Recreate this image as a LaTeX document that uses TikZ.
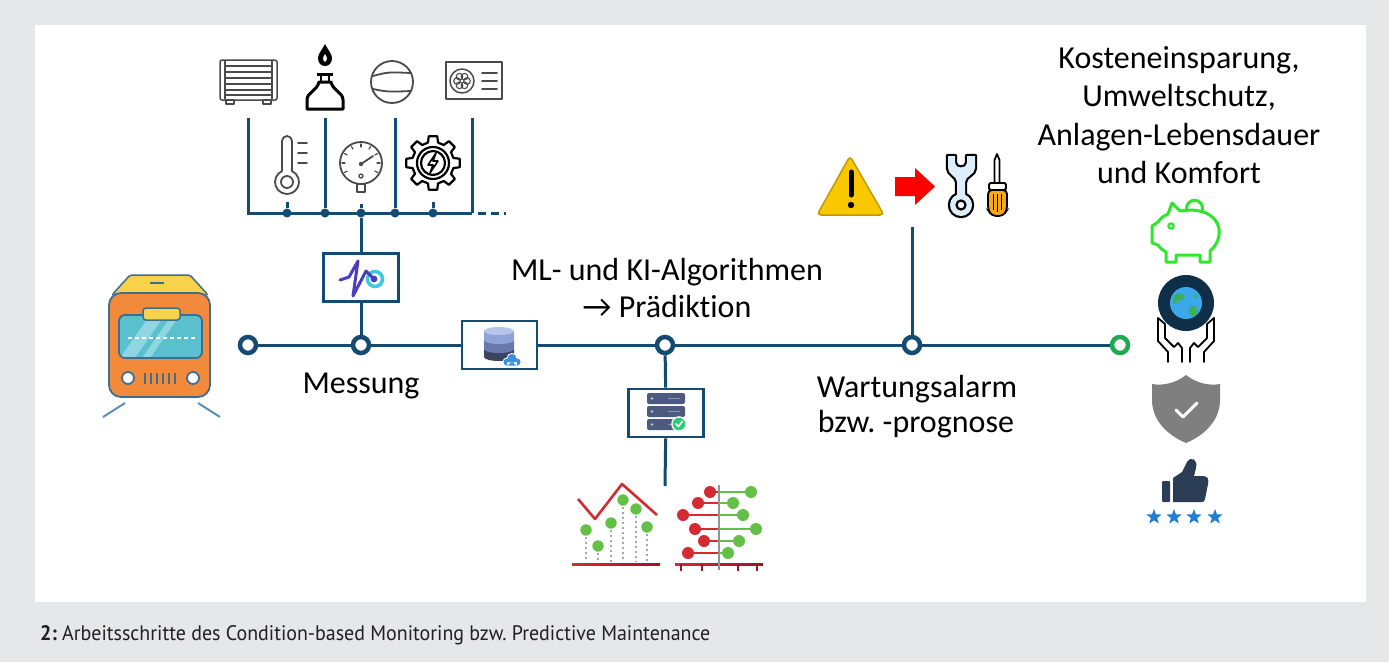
\documentclass[tikz,border=0pt]{standalone}
\usepackage{fontspec}
\newfontfamily\lblfont[Ligatures=NoCommon]{Carlito}
\newfontfamily\capfont[FakeStretch=0.95]{PT Sans}
\definecolor{bggray}{HTML}{E6E7E8}
\definecolor{lineblue}{HTML}{134B73}
\definecolor{hubgreen}{HTML}{1DAA50}
\definecolor{icongray}{HTML}{4A4A4A}
\definecolor{capgray}{HTML}{231F20}
\definecolor{trainorange}{HTML}{F28A3B}
\definecolor{trainyellow}{HTML}{F8D34A}
\definecolor{trainedge}{HTML}{3E6D8E}
\definecolor{trainwin}{HTML}{5BC0CD}
\definecolor{trainwinlight}{HTML}{8FD6E0}
\definecolor{railblue}{HTML}{5B8FC0}
\definecolor{pulsepurple}{HTML}{4A3FC0}
\definecolor{pulsecyan}{HTML}{3BC8E0}
\definecolor{dbtop}{HTML}{B5C5EC}
\definecolor{dbone}{HTML}{8FA3D9}
\definecolor{dbtwo}{HTML}{6A78AE}
\definecolor{dbthree}{HTML}{3B4460}
\definecolor{cloudblue}{HTML}{3A8FE0}
\definecolor{srvslate}{HTML}{4C5A80}
\definecolor{checkgreen}{HTML}{2ECC71}
\definecolor{chartred}{HTML}{D42A32}
\definecolor{chartdark}{HTML}{9E1420}
\definecolor{chartgreen}{HTML}{62C046}
\definecolor{warnyellow}{HTML}{F9C800}
\definecolor{warnedge}{HTML}{C09A00}
\definecolor{toolblue}{HTML}{DCEEFB}
\definecolor{toolorange}{HTML}{F5A623}
\definecolor{piggreen}{HTML}{2BE82B}
\definecolor{globenavy}{HTML}{0E2F47}
\definecolor{globeblue}{HTML}{3AA8EA}
\definecolor{contgreen}{HTML}{3CAE5C}
\definecolor{shieldgray}{HTML}{7F7F7F}
\definecolor{thumbnavy}{HTML}{2B3D55}
\definecolor{starblue}{HTML}{1F7FD4}
\frenchspacing
\begin{document}
\begin{tikzpicture}[x=1pt,y=-1pt,
  wire/.style={draw=lineblue, line width=3pt},
  hub/.style={circle, draw=lineblue, line width=4.5pt, fill=white, minimum size=16pt, inner sep=0pt},
  busdot/.style={circle, fill=lineblue, minimum size=9pt, inner sep=0pt},
  stepbox/.style={rectangle, draw=lineblue, line width=2.6pt, fill=white, minimum width=75pt, minimum height=48pt, inner sep=0pt},
  lbl/.style={font=\lblfont\fontsize{32}{37}\selectfont, inner sep=0pt, anchor=base},
  iconline/.style={draw=icongray, line width=1.8pt, line join=round, line cap=round},
  blackline/.style={draw=black, line width=2.2pt, line join=round, line cap=round}
]
\useasboundingbox (0,0) rectangle (1389,662);
\fill[bggray] (0,0) rectangle (1389,662);
\fill[white] (35,25) rectangle (1366,602);

% ---------------- train ----------------
\draw[railblue, line width=2pt] (125,403) -- (103,417);
\draw[railblue, line width=2pt] (198,403) -- (220,417);
\draw[trainedge, line width=1.5pt, fill=trainyellow, rounded corners=2pt] (130,275) -- (190,275) -- (208,295) -- (112,295) -- cycle;
\draw[trainedge, line width=2pt] (150,283) -- (164,283);
\draw[trainedge, line width=1.8pt, fill=trainorange, rounded corners=12pt] (109,293) rectangle (210,397);
\begin{scope}
  \path[clip, rounded corners=6pt] (119,315) rectangle (202,358);
  \fill[trainwin] (119,315) rectangle (202,358);
  \fill[trainwinlight] (150,315) -- (165,315) -- (135,358) -- (120,358) -- cycle;
  \fill[trainwinlight] (172,315) -- (180,315) -- (150,358) -- (142,358) -- cycle;
\end{scope}
\draw[trainedge, line width=1.8pt, rounded corners=6pt] (119,315) rectangle (202,358);
\draw[white, line width=1.5pt, dash pattern=on 4pt off 3pt] (128,338) -- (195,338);
\draw[trainedge, line width=1.5pt, fill=trainyellow, rounded corners=3pt] (143,308) rectangle (180,320);
\draw[trainedge, line width=1.8pt, fill=white] (128,378) circle (6);
\draw[trainedge, line width=1.8pt, fill=white] (193,378) circle (6);
\foreach \gx in {145,151,157,163,169,175}
  \draw[trainedge, line width=1.8pt] (\gx,373) -- (\gx,384);

% ---------------- sensor bus ----------------
\node[busdot] (d1) at (287,213) {};
\node[busdot] (d2) at (325,213) {};
\node[busdot] (d3) at (361,213) {};
\node[busdot] (d4) at (395,213) {};
\node[busdot] (d5) at (433,213) {};
\coordinate (radL) at (248,118);
\coordinate (busL) at (248,213);
\coordinate (busR) at (472,213);
\coordinate (busEnd) at (506,213);
\coordinate (burnTop) at (325,118);
\coordinate (compTop) at (395,118);
\coordinate (acTop) at (472,118);
\coordinate (thermoStub) at (287,202);
\coordinate (gaugeStub) at (361,204);
\coordinate (gearStub) at (433,202);
\draw[wire] (radL) -- (busL) -- (busR);
\draw[wire, dash pattern=on 8pt off 5pt] ([xshift=6pt]busR) -- (busEnd);
\draw[wire] (burnTop) -- (d2);
\draw[wire] (compTop) -- (d4);
\draw[wire] (acTop) -- (busR);
\draw[wire] (thermoStub) -- (d1);
\draw[wire] (gearStub) -- (d5);

% radiator
\draw[iconline, line width=1.5pt, fill=white, rounded corners=2pt] (220,60) rectangle (277,100);
\draw[iconline, line width=1.3pt] (225,61) -- (225,99) (272,61) -- (272,99);
\foreach \ry in {66,72,78,84,90,95}
  \draw[iconline, line width=1.3pt] (225,\ry) -- (272,\ry);
\draw[iconline, line width=1.3pt, fill=white] (226,100) rectangle (234,104);
\draw[iconline, line width=1.3pt, fill=white] (263,100) rectangle (271,104);

% gas burner
\fill[black] (325,44) .. controls (322,50) and (318,54) .. (318,58) .. controls (318,63) and (321,66) .. (325,66) .. controls (329,66) and (332,63) .. (332,58) .. controls (332,54) and (328,50) .. (325,44) -- cycle;
\fill[white] (325,54) .. controls (323,57) and (322,60) .. (325,62) .. controls (328,60) and (327,57) .. (325,54) -- cycle;
\draw[black, line width=3pt] (317,74) -- (333,74);
\draw[black, line width=2.5pt] (321,74) -- (321,82) (329,74) -- (329,82);
\draw[black, line width=3pt, line join=round] (319,82) -- (331,82) .. controls (333,91) and (343,92) .. (343,100) -- (343,109) -- (307,109) -- (307,100) .. controls (307,92) and (317,91) .. (319,82) -- cycle;

% compressor
\draw[iconline] (392,82) circle (21);
\draw[iconline] (373,76) .. controls (388,72) .. (411,73);
\draw[iconline] (373,89) .. controls (388,92) .. (411,91);

% outdoor unit
\draw[iconline, fill=white] (446,62) rectangle (502,99);
\draw[iconline, line width=1.5pt] (462,81) circle (12);
\foreach \pa in {0,60,...,300}
  \draw[iconline, line width=1.1pt] (462,81) ++(\pa:5) circle (3.3);
\foreach \ly in {73,81,89}
  \draw[iconline] (482,\ly) -- (497,\ly);

% thermometer
\draw[iconline] (282,171.1) -- (282,141) arc[start angle=180, end angle=360, radius=5] -- (292,171.1) arc[start angle=-65.4, end angle=245.4, radius=12] -- cycle;
\draw[iconline] (287,182) circle (6);
\foreach \ty in {143,153,163}
  \draw[iconline] (298,\ty) -- (307,\ty);

% pressure gauge
\draw[iconline, fill=white] (357,184) rectangle (365,192);
\draw[iconline, fill=white] (361,163) circle (21);
\foreach \ga in {150,180,...,390}
  \draw[iconline, line width=1.2pt] (361,163) ++(\ga:16) -- ++(\ga:3);
\draw[iconline] (361,164) -- (373,156);
\fill[icongray] (361,164) circle (2.2);
\draw[iconline, line width=1.3pt] (361,176) circle (2);

% gear with lightning bolt
\begin{scope}[shift={(433,163)}]
  \draw[blackline, fill=white] ({-14}:21) \foreach \ta in {0,45,...,315} { -- ({\ta-14}:21) -- ({\ta-9}:27) -- ({\ta+9}:27) -- ({\ta+14}:21) } -- cycle;
  \draw[blackline] (0,0) circle (16);
  \draw[blackline] (0,0) circle (12);
  \draw[blackline, line width=1.6pt] (3,-10) -- (-5,2) -- (0,2) -- (-3,10) -- (5,-2) -- (0,-2) -- cycle;
\end{scope}

% ---------------- main line ----------------
\node[hub] (h0) at (248,345) {};
\node[hub] (h1) at (361,345) {};
\node[stepbox] (dbox) at (499.5,345) {};
\node[hub] (h2) at (665,345) {};
\node[hub] (h3) at (912,345) {};
\node[hub, draw=hubgreen] (h4) at (1120,345) {};
\node[stepbox] (mbox) at (361,277.5) {};
\node[stepbox] (sbox) at (666,413) {};
\coordinate (chartTop) at (665,486);
\coordinate (alarmTop) at (912,227);
\draw[wire] (h0) -- (h1) -- (dbox) -- (h2) -- (h3) -- (h4);
\draw[wire] (gaugeStub) -- (d3) -- (mbox) -- (h1);
\draw[wire] (h2) -- (sbox);
\draw[wire] (sbox) -- (chartTop);
\draw[wire] (h3) -- (alarmTop);

% measurement icon
\draw[pulsecyan, line width=3.5pt] (375,279) circle (7.5);
\draw[pulsepurple, line width=3pt, line join=round, line cap=round] (340,280) -- (349,277) -- (358,261) -- (353,296) -- (366,271) -- (374,279);
\fill[pulsepurple] (374,279) circle (3.4);

% database icon
\fill[dbthree] (484,349) -- (484,357) arc[start angle=180, end angle=0, x radius=15, y radius=4] -- (514,349) -- cycle;
\fill[dbtwo] (484,340) -- (484,349) arc[start angle=180, end angle=0, x radius=15, y radius=4] -- (514,340) -- cycle;
\fill[dbone] (484,331) -- (484,340) arc[start angle=180, end angle=0, x radius=15, y radius=4] -- (514,331) -- cycle;
\fill[dbtop] (499,331) ellipse (15 and 4);
\draw[white, line width=2pt, fill=white] (507,362) circle (3.5) (512,358.5) circle (4.5) (517,362) circle (3.5) (507,362) rectangle (517,365.5);
\fill[cloudblue] (507,362) circle (3.5) (512,358.5) circle (4.5) (517,362) circle (3.5) (507,362) rectangle (517,365.5);

% server icon
\foreach \sy in {393,406,419}{
  \fill[srvslate, rounded corners=2pt] (647,\sy) rectangle (685,\sy+11);
  \fill[white!65!srvslate] (652,\sy+5.5) circle (1.4);
  \draw[white!35!srvslate, line width=1pt] (668,\sy+5.5) -- (680,\sy+5.5);
}
\fill[white] (679,424) circle (7.8);
\fill[checkgreen] (679,424) circle (6.3);
\draw[white, line width=1.6pt, line cap=round, line join=round] (676,424) -- (678.3,426.5) -- (682.5,421.3);

% ---------------- charts ----------------
\shade[left color=chartred, right color=chartdark] (572,563) rectangle (660,565.5);
\draw[chartred, line width=2.6pt, line join=round] (578,499) -- (595,519) -- (622,484) -- (657,515);
\foreach \cx/\cy in {586/530, 598/546, 611/523, 623/500, 636/509, 647/527}{
  \draw[gray!70, line width=2.2pt, dash pattern=on 2pt off 3pt] (\cx,\cy+7) -- (\cx,562);
  \fill[chartgreen] (\cx,\cy) circle (5.7);
}
\shade[left color=chartred, right color=chartdark] (675,563) rectangle (763,565.5);
\foreach \tx in {681,702,738,757}
  \draw[chartdark, line width=2pt] (\tx,564) -- (\tx,571);
\foreach \ry/\rx/\gxx in {492/710/751, 503/698/733, 515/683/743, 529/695/756, 541/704/739, 553/688/728}{
  \draw[chartred, line width=2.5pt] (\rx,\ry) -- (719,\ry);
  \fill[chartred] (\rx,\ry) circle (6);
  \draw[chartgreen, line width=2.5pt] (719,\ry) -- (\gxx,\ry);
  \fill[chartgreen] (\gxx,\ry) circle (6);
}
\draw[gray!85, line width=2.5pt] (719,485) -- (719,570);

% ---------------- alarm icons ----------------
\draw[warnedge, line width=1.5pt, fill=warnyellow, rounded corners=4pt] (850,156) -- (884,215) -- (817,215) -- cycle;
\draw[black, line width=5pt, line cap=round] (851,172) -- (851,195);
\fill[black] (851,205) circle (3.2);
\fill[red] (895,177) -- (915,177) -- (915,168) -- (935,186.5) -- (915,205) -- (915,196) -- (895,196) -- cycle;
% wrench
\path[draw=black, line width=4.4pt, line join=round]
  (948,156) -- (955,156) -- (955,163) .. controls (955,169) and (967,169) .. (967,163) -- (967,156) -- (975,156) -- (975,168) .. controls (975,175) and (965,176) .. (965,182) -- (965,196) -- (957,196) -- (957,182) .. controls (957,176) and (948,175) .. (948,168) -- cycle
  (961,205) circle (11);
\path[fill=toolblue]
  (948,156) -- (955,156) -- (955,163) .. controls (955,169) and (967,169) .. (967,163) -- (967,156) -- (975,156) -- (975,168) .. controls (975,175) and (965,176) .. (965,182) -- (965,196) -- (957,196) -- (957,182) .. controls (957,176) and (948,175) .. (948,168) -- cycle
  (961,205) circle (11);
\draw[black, line width=2.2pt, fill=white] (961,205) circle (4.5);
% screwdriver
\draw[black, line width=1.8pt, fill=white, line join=round] (994.5,183) -- (994.5,160) -- (997,154) -- (999.5,160) -- (999.5,183);
\draw[black, line width=1.8pt, fill=white, rounded corners=1.5pt] (989,183) rectangle (1006,190);
\draw[black, line width=1.8pt, fill=toolorange, rounded corners=4pt] (988,190) -- (988,210) -- (992,216) -- (1003,216) -- (1007,210) -- (1007,190) -- cycle;
\draw[black, line width=1.5pt] (993.5,194) -- (993.5,210) (997.5,194) -- (997.5,212) (1001.5,194) -- (1001.5,210);

% ---------------- benefit icons ----------------
% piggy bank
\draw[piggreen, line width=3pt, line join=round, line cap=round]
  (1152,226) -- (1152,243) -- (1158,245) .. controls (1161,249) .. (1166,252) -- (1166,262) -- (1176,262) -- (1176,255) -- (1200,255) -- (1200,262) -- (1210,262) -- (1210,251)
  .. controls (1217,245) and (1220,237) .. (1219,229) .. controls (1217,216) and (1204,210) .. (1190,210)
  -- (1180,211) -- (1172,203) -- (1168,214) .. controls (1162,217) .. (1158,222) -- cycle;
\draw[piggreen, line width=3pt, line cap=round] (1187,211) arc[start angle=160, end angle=380, radius=8];
\draw[piggreen, line width=2.2pt] (1171,226) circle (2.6);
% globe in hands
\draw[black, line width=1.8pt, line join=round, line cap=round]
  (1165,324) -- (1158,318) -- (1158,341) -- (1168,352) -- (1168,362)
  (1165,324) -- (1165,338) -- (1174,347)
  (1174,347) -- (1178,343) -- (1182,348) -- (1182,362)
  (1207,324) -- (1214,318) -- (1214,341) -- (1204,352) -- (1204,362)
  (1207,324) -- (1207,338) -- (1198,347)
  (1198,347) -- (1194,343) -- (1190,348) -- (1190,362);
\fill[globenavy] (1186,303) circle (28);
\fill[globeblue] (1186,303) circle (16);
\fill[contgreen] (1179,297) ellipse (6 and 3.5);
\fill[contgreen] (1175,301) ellipse (2.5 and 3);
\fill[contgreen] (1193,311) ellipse (4.5 and 5.5);
\fill[contgreen] (1196,296) ellipse (2 and 1.5);
% shield
\fill[shieldgray] (1186,375) .. controls (1176,383) and (1163,386) .. (1152,384) -- (1152,400) .. controls (1152,420) and (1167,435) .. (1186,443) .. controls (1205,435) and (1220,420) .. (1220,400) -- (1220,384) .. controls (1209,386) and (1196,383) .. (1186,375) -- cycle;
\draw[white, line width=3pt, line cap=round, line join=round] (1176,410) -- (1183,417) -- (1197,403);
% thumbs up and stars
\fill[thumbnavy, rounded corners=1pt] (1162,481) rectangle (1170,502);
\fill[thumbnavy] (1173,478) -- (1182,472) -- (1187,462) .. controls (1191,456) and (1198,459) .. (1196,468) -- (1194,476) -- (1203,476) .. controls (1208,476) and (1209,480) .. (1208,484) -- (1205,499) .. controls (1204,502) .. (1201,502) -- (1173,502) -- cycle;
\foreach \sx in {1154,1174,1194,1215}
  \fill[starblue, shift={(\sx,517)}] (270:8) -- (306:3.3) -- (342:8) -- (18:3.3) -- (54:8) -- (90:3.3) -- (126:8) -- (162:3.3) -- (198:8) -- (234:3.3) -- cycle;

% ---------------- labels ----------------
\node[lbl] (mess) at (361,393) {Messung};
\node[lbl] (ml1) at (667,280) {ML- und KI-Algorithmen};
\node[lbl] (ml2) at (667,317) {→ Prädiktion};
\node[lbl] (wa1) at (917,397) {Wartungsalarm};
\node[lbl] (wa2) at (916,432) {bzw. -prognose};
\node[lbl] (k1) at (1179,68) {Kosteneinsparung,};
\node[lbl] (k2) at (1179,106) {Umweltschutz,};
\node[lbl] (k3) at (1179,145) {Anlagen-Lebensdauer};
\node[lbl] (k4) at (1179,183) {und Komfort};

\node[anchor=base west, inner sep=0pt, text=capgray, font=\capfont\fontsize{21}{24}\selectfont] (cap) at (40,640) {\textbf{2:} Arbeitsschritte des Condition-based Monitoring bzw. Predictive Maintenance};
\end{tikzpicture}
\end{document}
